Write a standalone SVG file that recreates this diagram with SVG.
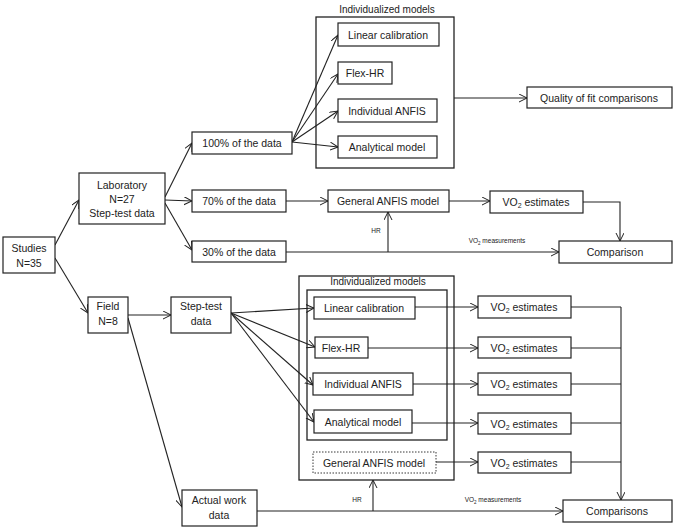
<svg xmlns="http://www.w3.org/2000/svg" width="678" height="532" viewBox="0 0 678 532">
<defs>
<marker id="ah" markerUnits="userSpaceOnUse" markerWidth="9" markerHeight="9" refX="8" refY="4" orient="auto">
<path d="M0,0 L8,4 L0,8" fill="none" stroke="#222" stroke-width="1"/>
</marker>
<style>
rect{fill:#fff;stroke:#222;stroke-width:1.2}
rect.dot{stroke-dasharray:1.5 1.5;stroke-width:0.9}
rect.grp{fill:none;stroke-width:1.3}
text{font-family:"Liberation Sans",Arial,sans-serif;font-size:10.5px;fill:#222;text-anchor:middle}
text.lbl{font-size:10px}
text.sm{font-size:6.5px}
#connectors line,#connectors path{stroke:#222;stroke-width:1.1;fill:none}
.a{marker-end:url(#ah)}
</style>
</defs>
<rect width="678" height="532" style="fill:#fff;stroke:none"/>

<g id="group-top">
<text class="lbl" x="387" y="13">Individualized models</text>
<rect class="grp" x="316" y="17" width="138" height="151"/>
</g>
<g id="group-bottom">
<rect class="grp" x="299" y="276" width="155" height="204"/>
<rect class="grp" x="307" y="290" width="140" height="150"/>
<text class="lbl" x="378" y="285">Individualized models</text>
</g>

<g id="connectors">
<line class="a" x1="55" y1="245" x2="79" y2="200"/>
<line class="a" x1="55" y1="258" x2="88" y2="313"/>
<line class="a" x1="165" y1="197" x2="192" y2="143"/>
<line class="a" x1="165" y1="200" x2="192" y2="201"/>
<line class="a" x1="165" y1="203" x2="192" y2="250"/>
<line class="a" x1="292" y1="142" x2="338" y2="35"/>
<line class="a" x1="292" y1="142" x2="338" y2="74"/>
<line class="a" x1="292" y1="142" x2="338" y2="111"/>
<line class="a" x1="292" y1="142" x2="338" y2="147"/>
<line class="a" x1="454" y1="98" x2="527" y2="98"/>
<line class="a" x1="286" y1="201" x2="328" y2="201"/>
<line class="a" x1="449" y1="201" x2="490" y2="201"/>
<path class="a" d="M583,202 H620 V241"/>
<line class="a" x1="286" y1="252" x2="559" y2="252"/>
<line class="a" x1="388" y1="252" x2="388" y2="212"/>
<line class="a" x1="128" y1="315" x2="171" y2="315"/>
<line class="a" x1="128" y1="318" x2="182" y2="507"/>
<line class="a" x1="231" y1="313" x2="314" y2="308"/>
<line class="a" x1="231" y1="313" x2="315" y2="347"/>
<line class="a" x1="231" y1="313" x2="313" y2="385"/>
<line class="a" x1="231" y1="313" x2="314" y2="422"/>
<line class="a" x1="415" y1="307" x2="478" y2="307"/>
<line class="a" x1="368" y1="348" x2="478" y2="348"/>
<line class="a" x1="413" y1="384" x2="478" y2="384"/>
<line class="a" x1="412" y1="423" x2="478" y2="423"/>
<line class="a" x1="436" y1="462" x2="478" y2="462"/>
<line x1="571" y1="307" x2="621" y2="307"/>
<line x1="571" y1="348" x2="621" y2="348"/>
<line x1="571" y1="384" x2="621" y2="384"/>
<line x1="571" y1="423" x2="621" y2="423"/>
<line x1="571" y1="462" x2="621" y2="462"/>
<line class="a" x1="621" y1="307" x2="621" y2="500"/>
<line class="a" x1="257" y1="511" x2="563" y2="511"/>
<line class="a" x1="373" y1="511" x2="373" y2="480"/>
<text class="sm" x="376" y="233">HR</text>
<text class="sm" x="497" y="243">VO<tspan font-size="4.5" dy="1.5">2</tspan><tspan dy="-1.5"> measurements</tspan></text>
<text class="sm" x="357" y="502">HR</text>
<text class="sm" x="493" y="502">VO<tspan font-size="4.5" dy="1.5">2</tspan><tspan dy="-1.5"> measurements</tspan></text>
</g>

<g id="studies"><rect x="3" y="237" width="52" height="36"/><text x="29" y="252">Studies</text><text x="29" y="267">N=35</text></g>
<g id="laboratory"><rect x="79" y="173" width="86" height="51"/><text x="122" y="189">Laboratory</text><text x="122" y="203">N=27</text><text x="122" y="217">Step-test data</text></g>
<g id="p100"><rect x="192" y="132" width="100" height="22"/><text x="242" y="147">100% of the data</text></g>
<g id="p70"><rect x="192" y="190" width="94" height="22"/><text x="239" y="205">70% of the data</text></g>
<g id="p30"><rect x="192" y="241" width="94" height="21"/><text x="239" y="256">30% of the data</text></g>
<g id="lin1"><rect x="338" y="23" width="101" height="23"/><text x="388" y="39">Linear calibration</text></g>
<g id="flex1"><rect x="338" y="62" width="54" height="22"/><text x="365" y="77">Flex-HR</text></g>
<g id="ind1"><rect x="338" y="99" width="99" height="23"/><text x="387" y="115">Individual ANFIS</text></g>
<g id="ana1"><rect x="338" y="136" width="99" height="22"/><text x="387" y="151">Analytical model</text></g>
<g id="quality"><rect x="527" y="87" width="145" height="21"/><text x="599" y="102">Quality of fit comparisons</text></g>
<g id="gen1"><rect x="328" y="190" width="121" height="22"/><text x="388" y="205">General ANFIS model</text></g>
<g id="vo2a"><rect x="490" y="191" width="93" height="22"/><text x="536" y="206">VO<tspan font-size="7" dy="2">2</tspan><tspan dy="-2"> estimates</tspan></text></g>
<g id="comparison"><rect x="559" y="241" width="113" height="22"/><text x="615" y="256">Comparison</text></g>
<g id="field"><rect x="88" y="297" width="40" height="36"/><text x="108" y="310">Field</text><text x="108" y="325">N=8</text></g>
<g id="steptest"><rect x="171" y="297" width="60" height="36"/><text x="201" y="310">Step-test</text><text x="201" y="325">data</text></g>
<g id="actual"><rect x="182" y="490" width="75" height="36"/><text x="219" y="504">Actual work</text><text x="219" y="519">data</text></g>
<g id="lin2"><rect x="314" y="297" width="101" height="22"/><text x="364" y="312">Linear calibration</text></g>
<g id="flex2"><rect x="315" y="337" width="53" height="21"/><text x="341" y="352">Flex-HR</text></g>
<g id="ind2"><rect x="313" y="373" width="100" height="22"/><text x="363" y="388">Individual ANFIS</text></g>
<g id="ana2"><rect x="314" y="410" width="98" height="23"/><text x="363" y="426">Analytical model</text></g>
<g id="gen2"><rect class="dot" x="313" y="452" width="123" height="21"/><text x="374" y="467">General ANFIS model</text></g>
<g id="vo2b"><rect x="478" y="296" width="93" height="22"/><text x="524" y="311">VO<tspan font-size="7" dy="2">2</tspan><tspan dy="-2"> estimates</tspan></text></g>
<g id="vo2c"><rect x="478" y="337" width="93" height="21"/><text x="524" y="352">VO<tspan font-size="7" dy="2">2</tspan><tspan dy="-2"> estimates</tspan></text></g>
<g id="vo2d"><rect x="478" y="373" width="93" height="22"/><text x="524" y="388">VO<tspan font-size="7" dy="2">2</tspan><tspan dy="-2"> estimates</tspan></text></g>
<g id="vo2e"><rect x="478" y="413" width="93" height="21"/><text x="524" y="428">VO<tspan font-size="7" dy="2">2</tspan><tspan dy="-2"> estimates</tspan></text></g>
<g id="vo2f"><rect x="478" y="452" width="93" height="21"/><text x="524" y="467">VO<tspan font-size="7" dy="2">2</tspan><tspan dy="-2"> estimates</tspan></text></g>
<g id="comparisons"><rect x="563" y="500" width="109" height="22"/><text x="617" y="515">Comparisons</text></g>
</svg>
